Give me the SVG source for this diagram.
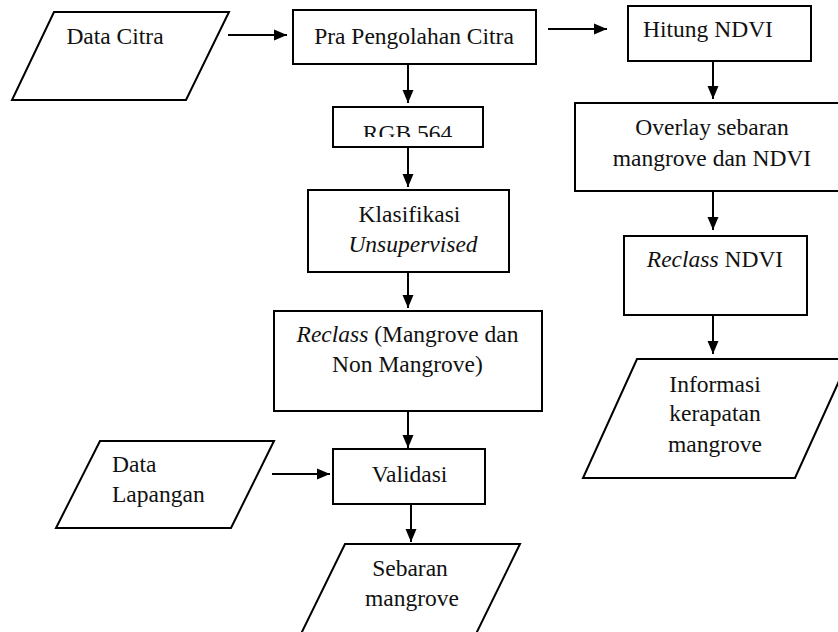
<svg xmlns="http://www.w3.org/2000/svg" width="838" height="632" viewBox="0 0 838 632">
<style>
.box{fill:#fff;stroke:#000;stroke-width:2}
.ln{fill:none;stroke:#000;stroke-width:2}
text{font-family:"Liberation Serif","DejaVu Serif",serif;font-size:23.5px;fill:#111;text-anchor:middle}
.st{text-anchor:start}
.it{font-style:italic}
</style>
<defs>
<marker id="ah" markerUnits="userSpaceOnUse" markerWidth="14" markerHeight="12" refX="13" refY="6" orient="auto">
<path d="M0,0.5 L13,6 L0,11.5 z" fill="#000"/>
</marker>
<clipPath id="rgbclip"><rect x="333" y="107" width="150" height="30"/></clipPath>
</defs>
<rect width="838" height="632" fill="#fff"/>
<g id="connectors">
<line class="ln" x1="228" y1="35" x2="287" y2="35" marker-end="url(#ah)"/>
<line class="ln" x1="548" y1="29" x2="607" y2="29" marker-end="url(#ah)"/>
<line class="ln" x1="713" y1="61" x2="713" y2="99" marker-end="url(#ah)"/>
<line class="ln" x1="713" y1="191" x2="713" y2="230" marker-end="url(#ah)"/>
<line class="ln" x1="713" y1="315" x2="713" y2="354" marker-end="url(#ah)"/>
<line class="ln" x1="408" y1="64" x2="408" y2="103" marker-end="url(#ah)"/>
<line class="ln" x1="408" y1="147" x2="408" y2="187" marker-end="url(#ah)"/>
<line class="ln" x1="408" y1="272" x2="408" y2="308" marker-end="url(#ah)"/>
<line class="ln" x1="408" y1="411" x2="408" y2="448" marker-end="url(#ah)"/>
<line class="ln" x1="272" y1="474" x2="330" y2="474" marker-end="url(#ah)"/>
<line class="ln" x1="411" y1="504" x2="411" y2="542" marker-end="url(#ah)"/>
</g>
<g id="data-citra">
<polygon class="box" points="54,12 229,12 186,100 12,100"/>
<text x="115" y="44">Data Citra</text>
</g>
<g id="pra-pengolahan">
<rect class="box" x="293" y="10" width="243" height="54"/>
<text x="414" y="44">Pra Pengolahan Citra</text>
</g>
<g id="hitung-ndvi">
<rect class="box" x="628" y="6" width="183" height="55"/>
<text x="708" y="37">Hitung NDVI</text>
</g>
<g id="overlay">
<rect class="box" x="575" y="103" width="272" height="88"/>
<text x="712" y="135">Overlay sebaran</text>
<text x="712" y="166">mangrove dan NDVI</text>
</g>
<g id="reclass-ndvi">
<rect class="box" x="624" y="236" width="183" height="79"/>
<text x="715" y="267"><tspan class="it">Reclass</tspan> NDVI</text>
</g>
<g id="informasi">
<polygon class="box" points="637,359 849,359 795,478 583,478"/>
<text x="715" y="392">Informasi</text>
<text x="715" y="421">kerapatan</text>
<text x="715" y="452">mangrove</text>
</g>
<g id="rgb564">
<rect class="box" x="333" y="107" width="150" height="40"/>
<text x="407.5" y="140.5" clip-path="url(#rgbclip)">RGB 564</text>
</g>
<g id="klasifikasi">
<rect class="box" x="308" y="190" width="201" height="82"/>
<text x="409.5" y="222">Klasifikasi</text>
<text x="413" y="252" class="it">Unsupervised</text>
</g>
<g id="reclass-mangrove">
<rect class="box" x="274" y="311" width="268" height="100"/>
<text x="407.5" y="342"><tspan class="it">Reclass</tspan> (Mangrove dan</text>
<text x="407.5" y="372">Non Mangrove)</text>
</g>
<g id="data-lapangan">
<polygon class="box" points="100,441 274,441 231,528 56,528"/>
<text x="112" y="472" class="st">Data</text>
<text x="112" y="502" class="st">Lapangan</text>
</g>
<g id="validasi">
<rect class="box" x="333" y="449" width="152" height="55"/>
<text x="409.5" y="482">Validasi</text>
</g>
<g id="sebaran">
<polygon class="box" points="345,544 520,544 473,640 298,640"/>
<text x="410" y="576">Sebaran</text>
<text x="412" y="606">mangrove</text>
</g>
</svg>
